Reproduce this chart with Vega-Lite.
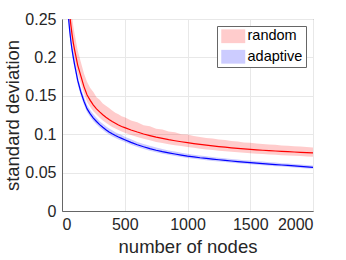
{
"$schema": "https://vega.github.io/schema/vega-lite/v6.json",
"width": 251, "height": 192,
"autosize": {"type": "none"},
"padding": {"left": 62, "top": 19, "right": 33, "bottom": 49},
"config": {
  "font": "Liberation Sans",
  "view": {"stroke": "#666666", "strokeWidth": 1},
  "axis": {"grid": true, "gridColor": "#e8e8e8", "domainColor": "#666666", "ticks": false, "labelColor": "#262626", "titleColor": "#262626", "labelFontSize": 16, "titleFontSize": 18.5, "titleFontWeight": "normal", "labelFont": "Liberation Sans", "titleFont": "Liberation Sans"}
},
"data": {"values": [
{"s":"random","n":40,"m":0.300,"lo":0.285,"hi":0.325},
{"s":"random","n":50,"m":0.275,"lo":0.262,"hi":0.298},
{"s":"random","n":60,"m":0.258,"lo":0.245,"hi":0.281},
{"s":"random","n":70,"m":0.243,"lo":0.230,"hi":0.266},
{"s":"random","n":80,"m":0.230,"lo":0.218,"hi":0.253},
{"s":"random","n":90,"m":0.219,"lo":0.207,"hi":0.241},
{"s":"random","n":100,"m":0.210,"lo":0.198,"hi":0.231},
{"s":"random","n":125,"m":0.190,"lo":0.179,"hi":0.209},
{"s":"random","n":150,"m":0.176,"lo":0.166,"hi":0.194},
{"s":"random","n":175,"m":0.162,"lo":0.153,"hi":0.179},
{"s":"random","n":200,"m":0.151,"lo":0.142,"hi":0.168},
{"s":"random","n":225,"m":0.144,"lo":0.1355,"hi":0.160},
{"s":"random","n":250,"m":0.138,"lo":0.130,"hi":0.155},
{"s":"random","n":275,"m":0.133,"lo":0.1255,"hi":0.148},
{"s":"random","n":300,"m":0.129,"lo":0.1215,"hi":0.145},
{"s":"random","n":325,"m":0.1253,"lo":0.118,"hi":0.140},
{"s":"random","n":350,"m":0.122,"lo":0.115,"hi":0.137},
{"s":"random","n":375,"m":0.119,"lo":0.112,"hi":0.134},
{"s":"random","n":400,"m":0.1165,"lo":0.1095,"hi":0.131},
{"s":"random","n":425,"m":0.1142,"lo":0.1075,"hi":0.128},
{"s":"random","n":450,"m":0.112,"lo":0.1055,"hi":0.126},
{"s":"random","n":475,"m":0.110,"lo":0.1035,"hi":0.1235},
{"s":"random","n":500,"m":0.1085,"lo":0.102,"hi":0.122},
{"s":"random","n":550,"m":0.1055,"lo":0.099,"hi":0.118},
{"s":"random","n":600,"m":0.1028,"lo":0.0965,"hi":0.1155},
{"s":"random","n":650,"m":0.1003,"lo":0.094,"hi":0.1115},
{"s":"random","n":700,"m":0.0982,"lo":0.092,"hi":0.1105},
{"s":"random","n":750,"m":0.0962,"lo":0.090,"hi":0.107},
{"s":"random","n":800,"m":0.0945,"lo":0.0885,"hi":0.106},
{"s":"random","n":850,"m":0.0929,"lo":0.087,"hi":0.1035},
{"s":"random","n":900,"m":0.0915,"lo":0.0857,"hi":0.1025},
{"s":"random","n":950,"m":0.0902,"lo":0.0845,"hi":0.100},
{"s":"random","n":1000,"m":0.0890,"lo":0.0833,"hi":0.0995},
{"s":"random","n":1050,"m":0.0878,"lo":0.0822,"hi":0.0975},
{"s":"random","n":1100,"m":0.0867,"lo":0.0812,"hi":0.0965},
{"s":"random","n":1150,"m":0.0857,"lo":0.0802,"hi":0.0950},
{"s":"random","n":1200,"m":0.0848,"lo":0.0794,"hi":0.0945},
{"s":"random","n":1250,"m":0.0839,"lo":0.0786,"hi":0.0930},
{"s":"random","n":1300,"m":0.0831,"lo":0.0778,"hi":0.0925},
{"s":"random","n":1350,"m":0.0823,"lo":0.0771,"hi":0.0910},
{"s":"random","n":1400,"m":0.0816,"lo":0.0764,"hi":0.0905},
{"s":"random","n":1450,"m":0.0809,"lo":0.0758,"hi":0.0893},
{"s":"random","n":1500,"m":0.0803,"lo":0.0752,"hi":0.0890},
{"s":"random","n":1550,"m":0.0797,"lo":0.0746,"hi":0.0878},
{"s":"random","n":1600,"m":0.0791,"lo":0.0741,"hi":0.0873},
{"s":"random","n":1650,"m":0.0786,"lo":0.0736,"hi":0.0866},
{"s":"random","n":1700,"m":0.0781,"lo":0.0731,"hi":0.0862},
{"s":"random","n":1750,"m":0.0776,"lo":0.0727,"hi":0.0853},
{"s":"random","n":1800,"m":0.0772,"lo":0.0723,"hi":0.0850},
{"s":"random","n":1850,"m":0.0768,"lo":0.0719,"hi":0.0843},
{"s":"random","n":1900,"m":0.0764,"lo":0.0715,"hi":0.0840},
{"s":"random","n":1950,"m":0.0760,"lo":0.0711,"hi":0.0833},
{"s":"random","n":2000,"m":0.0757,"lo":0.0708,"hi":0.0828},
{"s":"adaptive","n":30,"m":0.310,"lo":0.302,"hi":0.320},
{"s":"adaptive","n":40,"m":0.278,"lo":0.271,"hi":0.287},
{"s":"adaptive","n":50,"m":0.255,"lo":0.248,"hi":0.263},
{"s":"adaptive","n":60,"m":0.237,"lo":0.231,"hi":0.245},
{"s":"adaptive","n":70,"m":0.222,"lo":0.216,"hi":0.2295},
{"s":"adaptive","n":80,"m":0.210,"lo":0.204,"hi":0.217},
{"s":"adaptive","n":90,"m":0.200,"lo":0.194,"hi":0.2065},
{"s":"adaptive","n":100,"m":0.191,"lo":0.1855,"hi":0.1975},
{"s":"adaptive","n":125,"m":0.170,"lo":0.165,"hi":0.176},
{"s":"adaptive","n":150,"m":0.155,"lo":0.150,"hi":0.1605},
{"s":"adaptive","n":175,"m":0.143,"lo":0.1385,"hi":0.1485},
{"s":"adaptive","n":200,"m":0.133,"lo":0.1287,"hi":0.138},
{"s":"adaptive","n":225,"m":0.1265,"lo":0.1225,"hi":0.1315},
{"s":"adaptive","n":250,"m":0.121,"lo":0.117,"hi":0.126},
{"s":"adaptive","n":275,"m":0.1165,"lo":0.1127,"hi":0.1215},
{"s":"adaptive","n":300,"m":0.1125,"lo":0.1088,"hi":0.117},
{"s":"adaptive","n":325,"m":0.109,"lo":0.1054,"hi":0.1135},
{"s":"adaptive","n":350,"m":0.1058,"lo":0.1023,"hi":0.1105},
{"s":"adaptive","n":375,"m":0.103,"lo":0.0996,"hi":0.1075},
{"s":"adaptive","n":400,"m":0.1005,"lo":0.0971,"hi":0.105},
{"s":"adaptive","n":425,"m":0.0983,"lo":0.095,"hi":0.1025},
{"s":"adaptive","n":450,"m":0.0963,"lo":0.0931,"hi":0.1005},
{"s":"adaptive","n":475,"m":0.0945,"lo":0.0914,"hi":0.0988},
{"s":"adaptive","n":500,"m":0.0928,"lo":0.0898,"hi":0.0968},
{"s":"adaptive","n":550,"m":0.0893,"lo":0.0864,"hi":0.0933},
{"s":"adaptive","n":600,"m":0.0862,"lo":0.0834,"hi":0.0900},
{"s":"adaptive","n":650,"m":0.0836,"lo":0.0808,"hi":0.0874},
{"s":"adaptive","n":700,"m":0.0812,"lo":0.0785,"hi":0.0848},
{"s":"adaptive","n":750,"m":0.0791,"lo":0.0765,"hi":0.0827},
{"s":"adaptive","n":800,"m":0.0773,"lo":0.0747,"hi":0.0808},
{"s":"adaptive","n":850,"m":0.0757,"lo":0.0732,"hi":0.0789},
{"s":"adaptive","n":900,"m":0.0742,"lo":0.0717,"hi":0.0775},
{"s":"adaptive","n":950,"m":0.0728,"lo":0.0704,"hi":0.0758},
{"s":"adaptive","n":1000,"m":0.0715,"lo":0.0691,"hi":0.0747},
{"s":"adaptive","n":1050,"m":0.0704,"lo":0.0680,"hi":0.0734},
{"s":"adaptive","n":1100,"m":0.0693,"lo":0.0670,"hi":0.0723},
{"s":"adaptive","n":1150,"m":0.0684,"lo":0.0661,"hi":0.0712},
{"s":"adaptive","n":1200,"m":0.0675,"lo":0.0652,"hi":0.0704},
{"s":"adaptive","n":1250,"m":0.0667,"lo":0.0645,"hi":0.0694},
{"s":"adaptive","n":1300,"m":0.0659,"lo":0.0637,"hi":0.0687},
{"s":"adaptive","n":1350,"m":0.0651,"lo":0.0629,"hi":0.0677},
{"s":"adaptive","n":1400,"m":0.0644,"lo":0.0622,"hi":0.0671},
{"s":"adaptive","n":1450,"m":0.0637,"lo":0.0616,"hi":0.0662},
{"s":"adaptive","n":1500,"m":0.0630,"lo":0.0609,"hi":0.0657},
{"s":"adaptive","n":1550,"m":0.0623,"lo":0.0602,"hi":0.0648},
{"s":"adaptive","n":1600,"m":0.0617,"lo":0.0596,"hi":0.0643},
{"s":"adaptive","n":1650,"m":0.0611,"lo":0.0590,"hi":0.0635},
{"s":"adaptive","n":1700,"m":0.0605,"lo":0.0584,"hi":0.0631},
{"s":"adaptive","n":1750,"m":0.0599,"lo":0.0578,"hi":0.0623},
{"s":"adaptive","n":1800,"m":0.0593,"lo":0.0572,"hi":0.0619},
{"s":"adaptive","n":1850,"m":0.0587,"lo":0.0566,"hi":0.0611},
{"s":"adaptive","n":1900,"m":0.0581,"lo":0.0561,"hi":0.0607},
{"s":"adaptive","n":1950,"m":0.0575,"lo":0.0555,"hi":0.0599},
{"s":"adaptive","n":2000,"m":0.0569,"lo":0.0549,"hi":0.0594}
]},
"encoding": {
  "x": {"field": "n", "type": "quantitative", "scale": {"domain": [0, 2000], "nice": false}, "axis": {"values": [0, 500, 1000, 1500, 2000], "format": "d", "title": "number of nodes", "labelPadding": 5, "titlePadding": 5}}
},
"layer": [
  {
    "mark": {"type": "area", "clip": true, "opacity": 0.2},
    "encoding": {
      "y": {"field": "lo", "type": "quantitative", "scale": {"domain": [0, 0.25], "nice": false}, "axis": {"values": [0, 0.05, 0.1, 0.15, 0.2, 0.25], "format": ".2~f", "title": "standard deviation", "labelPadding": 6, "titlePadding": 2}},
      "y2": {"field": "hi"},
      "fill": {"field": "s", "type": "nominal", "scale": {"domain": ["random", "adaptive"], "range": ["#ff0000", "#0000ff"]},
        "legend": {"title": null, "orient": "top-right", "offset": 7, "strokeColor": "#666666", "fillColor": "#ffffff", "padding": 3, "symbolType": "M-2,-1.15H2V1.15H-2Z", "symbolSize": 144, "symbolOpacity": 0.2, "symbolStrokeWidth": 0, "symbolOffset": 6, "labelOffset": 7, "labelFontSize": 14.5, "labelColor": "#000000", "rowPadding": 4.5}}
    }
  },
  {
    "mark": {"type": "line", "clip": true, "strokeWidth": 1.2},
    "encoding": {
      "y": {"field": "m", "type": "quantitative", "axis": {"values": [0, 0.05, 0.1, 0.15, 0.2, 0.25], "format": ".2~f", "title": "standard deviation", "labelPadding": 6, "titlePadding": 2}},
      "stroke": {"field": "s", "type": "nominal", "scale": {"domain": ["random", "adaptive"], "range": ["#ff0000", "#0000ff"]}, "legend": null}
    }
  }
]
}
